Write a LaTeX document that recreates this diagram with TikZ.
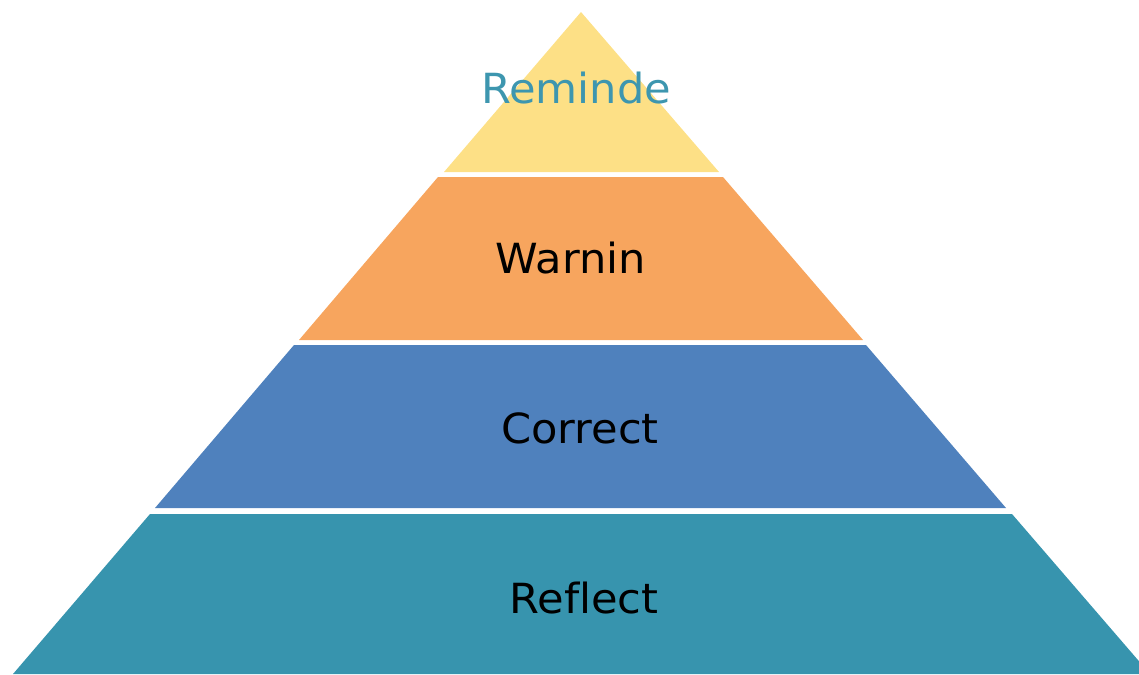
\documentclass[tikz,border=0pt]{standalone}
\usepackage{fontspec}
\setmainfont[Ligatures=NoCommon,FakeStretch=1.04]{DejaVu Sans}
\definecolor{cyellow}{HTML}{FDE086}
\definecolor{corange}{HTML}{F7A55E}
\definecolor{cblue}{HTML}{4F81BD}
\definecolor{cteal}{HTML}{3794AE}
\definecolor{ctext}{HTML}{3D96AF}
\tikzset{
  layer/.style={draw=none},
  lbl/.style={anchor=base, inner sep=0pt, font=\fontsize{41.5}{48}\selectfont}
}
\begin{document}
\begin{tikzpicture}[x=1pt,y=-1pt]
\useasboundingbox (0,0) rectangle (1139,674);
\fill[layer, cyellow] (581,12) -- (719,172) -- (444,172) -- cycle;
\fill[layer, corange] (438,177) -- (723,177) -- (863,340) -- (299,340) -- cycle;
\fill[layer, cblue] (294,345) -- (866,345) -- (1006,508) -- (155,508) -- cycle;
\fill[layer, cteal] (150,514) -- (1012,514) -- (1150,674) -- (13,674) -- cycle;
\node[lbl, text=ctext] (reminde) at (576,104) {Reminde};
\node[lbl] (warnin) at (571,273) {Warnin};
\node[lbl] (correct) at (580,443) {Correct};
\node[lbl] (reflect) at (584,613) {Reflect};
\end{tikzpicture}
\end{document}
